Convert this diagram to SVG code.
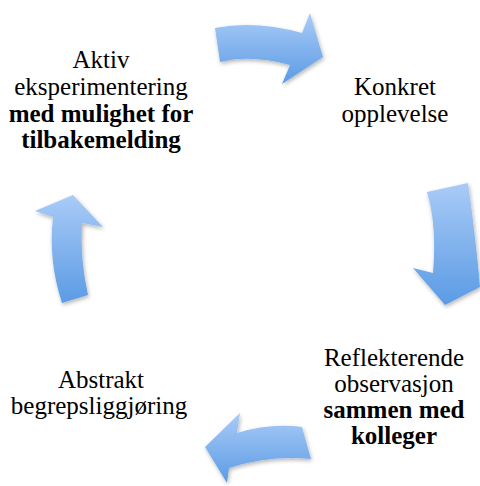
<svg xmlns="http://www.w3.org/2000/svg" width="480" height="486" viewBox="0 0 480 486">
<defs>
<linearGradient id="g" x1="0" y1="0" x2="0" y2="1">
<stop offset="0" stop-color="#aacbf7"/>
<stop offset="1" stop-color="#5b9be4"/>
</linearGradient>
<filter id="sh" x="-20%" y="-20%" width="140%" height="140%">
<feGaussianBlur in="SourceAlpha" stdDeviation="2"/>
<feOffset dx="1" dy="2" result="b"/>
<feComponentTransfer><feFuncA type="linear" slope="0.3"/></feComponentTransfer>
<feMerge><feMergeNode/><feMergeNode in="SourceGraphic"/></feMerge>
</filter>
<style>
.a{fill:url(#g);filter:url(#sh)}
</style>
</defs>
<rect width="480" height="486" fill="#fff"/>
<g id="connectors">
<path class="a" d="M215,28 Q255,20 302,33 L310,13 L323,57 L282,84 L290,65 Q250,54 220,62 Z"/>
<path class="a" d="M427,192 L468,183 Q476,240 480,287 L445,305 L413,268 L433,273 Q437,225 427,192 Z"/>
<path class="a" d="M302,427 L311,459 Q270,455 229,468 L227,483 L205,447 L240,413 L237,433 Q270,423 302,427 Z"/>
<path class="a" d="M73,195 L103,227 L82,223 Q80,260 88,295 L62,303 Q48,260 53,217 L35,211 Z"/>
</g>
<g id="node-aktiv" text-anchor="middle" font-size="25">
<text style="font-family:'Liberation Serif',serif !important" x="101" y="68">Aktiv</text>
<text style="font-family:'Liberation Serif',serif !important" x="101" y="95">eksperimentering</text>
<text style="font-family:'Liberation Serif',serif !important;font-weight:bold" x="101" y="122">med mulighet for</text>
<text style="font-family:'Liberation Serif',serif !important;font-weight:bold" x="101" y="148">tilbakemelding</text>
</g>
<g id="node-konkret" text-anchor="middle" font-size="25">
<text style="font-family:'Liberation Serif',serif !important" x="395" y="95">Konkret</text>
<text style="font-family:'Liberation Serif',serif !important" x="395" y="122">opplevelse</text>
</g>
<g id="node-reflekterende" text-anchor="middle" font-size="25">
<text style="font-family:'Liberation Serif',serif !important" x="394" y="366">Reflekterende</text>
<text style="font-family:'Liberation Serif',serif !important" x="394" y="392">observasjon</text>
<text style="font-family:'Liberation Serif',serif !important;font-weight:bold" x="394" y="418">sammen med</text>
<text style="font-family:'Liberation Serif',serif !important;font-weight:bold" x="394" y="444">kolleger</text>
</g>
<g id="node-abstrakt" text-anchor="middle" font-size="25">
<text style="font-family:'Liberation Serif',serif !important" x="101" y="388">Abstrakt</text>
<text style="font-family:'Liberation Serif',serif !important" x="99" y="414">begrepsliggjøring</text>
</g>
</svg>
